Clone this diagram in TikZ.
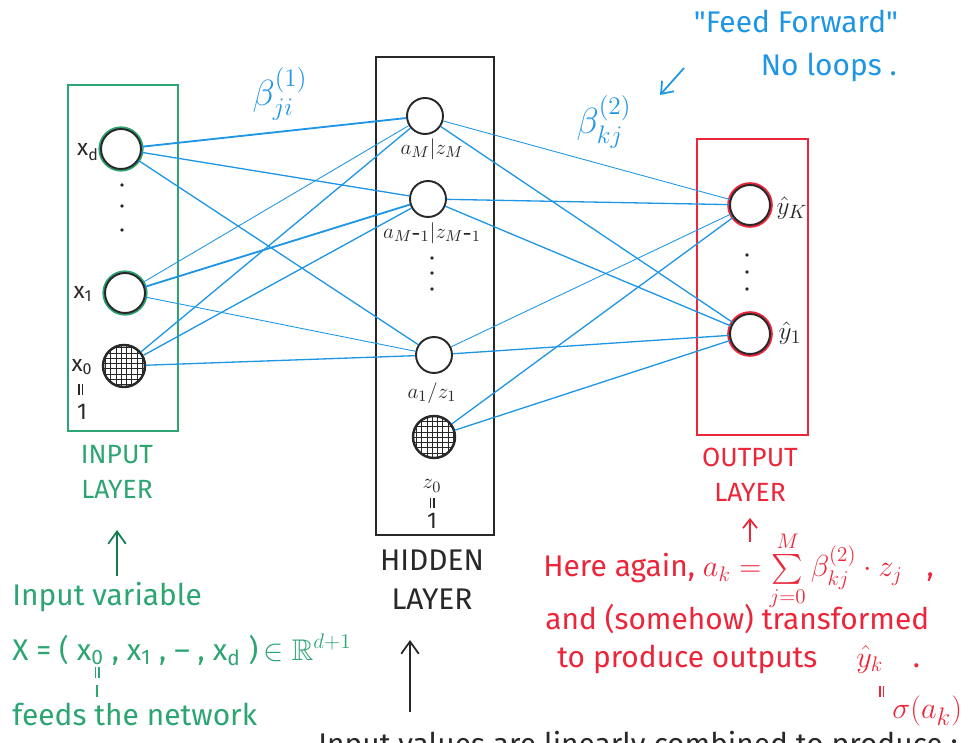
\documentclass[tikz,border=0pt]{standalone}
\usepackage{fontspec}
\usepackage{amssymb}
\setmainfont{Fira Sans}
\usetikzlibrary{arrows.meta,patterns}

\definecolor{netgreen}{RGB}{45,165,115}
\definecolor{arrowgreen}{RGB}{20,125,80}
\definecolor{netblue}{RGB}{30,150,228}
\definecolor{netred}{RGB}{236,38,58}
\definecolor{pen}{RGB}{40,40,40}

\newcommand\hwbig{\fontsize{17}{20}\selectfont}
\newcommand\hwmid{\fontsize{15}{18}\selectfont}
\newcommand\hwlbl{\fontsize{13}{15}\selectfont}

\begin{document}
\begin{tikzpicture}[x=0.02cm,y=-0.02cm,
  unit/.style={circle,minimum size=0.8cm,inner sep=0pt,draw=pen,line width=1.1pt,fill=white},
  innode/.style={unit,preaction={draw=netgreen,line width=3pt}},
  outnode/.style={unit,preaction={draw=netred,line width=3.2pt}},
  hidnode/.style={unit,minimum size=0.72cm},
  biasnode/.style={circle,minimum size=0.84cm,inner sep=0pt,draw=pen,line width=1.4pt,
    fill=white,postaction={pattern=grid,pattern color=pen}},
  wt/.style={draw=netblue,line width=0.75pt},
  wtthick/.style={draw=netblue,line width=1.05pt},
  wtthin/.style={draw=netblue,line width=0.5pt},
  lbl/.style={inner sep=0pt,font=\hwlbl,text=pen},
  dot/.style={fill=pen},
  eqstroke/.style={line width=0.7pt},
  upar/.style={-{Straight Barb[length=7pt,width=10pt,line width=1pt]},line width=1pt}
]
\useasboundingbox (0,0) rectangle (968,743);
\clip (0,0) rectangle (968,743);

% layer frames
\draw[netgreen,line width=0.8pt] (68,85) rectangle (178,431);
\draw[pen,line width=0.8pt] (376,57) rectangle (494,535);
\draw[netred,line width=0.9pt] (697,139) rectangle (808,435);

% units
\node[innode] (xd) at (121,149) {};
\node[innode] (x1) at (125,293) {};
\node[biasnode] (x0) at (124,366) {};
\node[hidnode] (hM) at (425,116) {};
\node[hidnode] (hM1) at (428,199) {};
\node[hidnode] (h1) at (434,355) {};
\node[biasnode] (z0) at (434,437) {};
\node[outnode] (yK) at (750,205) {};
\node[outnode] (y1) at (750,334) {};

% first-layer weights
\draw[wtthick] (xd) -- (hM);
\draw[wt] (xd) -- (hM1);
\draw[wt] (xd) -- (h1);
\draw[wtthin] (x1) -- (hM);
\draw[wtthick] (x1) -- (hM1);
\draw[wtthin] (x1) -- (h1);
\draw[wt] (x0) -- (hM);
\draw[wt] (x0) -- (hM1);
\draw[wt] (x0) -- (h1);

% second-layer weights
\draw[wtthin] (hM) -- (yK);
\draw[wt] (hM) -- (y1);
\draw[wt] (hM1) -- (yK);
\draw[wt] (hM1) -- (y1);
\draw[wtthin] (h1) -- (yK);
\draw[wt] (h1) -- (y1);
\draw[wt] (z0) -- (yK);
\draw[wt] (z0) -- (y1);

% elision dots in each layer
\foreach \yy in {185,206,230} \fill[dot] (122,\yy) circle[radius=1.1pt];
\foreach \yy in {258,273,289} \fill[dot] (432,\yy) circle[radius=1.1pt];
\foreach \yy in {255,272,289} \fill[dot] (747,\yy) circle[radius=1.1pt];

% input labels
\node[lbl] (lxd) at (88,152) {x\textsubscript{d}};
\node[lbl] (lx1) at (83,294) {x\textsubscript{1}};
\node[lbl] (lx0) at (82,367) {x\textsubscript{0}};
\draw[pen,eqstroke] (79,384) -- (79,395) (82.5,384) -- (82.5,395);
\node[lbl] (onex0) at (82,412) {1};

% hidden labels
\node[lbl] (lhM) at (432,149) {$a_M | z_M$};
\node[lbl] (lhM1) at (432,233) {$a_{M\mbox{-}1} | z_{M\mbox{-}1}$};
\node[lbl] (lh1) at (432,393) {$a_1 / z_1$};
\node[lbl] (lz0) at (432,486) {$z_0$};
\draw[pen,eqstroke] (430.5,498) -- (430.5,508) (434,498) -- (434,508);
\node[lbl] (onez0) at (432,521) {1};

% output labels
\node[lbl,font=\hwmid] (lyK) at (792,208) {$\hat{y}_K$};
\node[lbl,font=\hwmid] (ly1) at (790,333) {$\hat{y}_1$};

% weight labels
\node[inner sep=0pt,text=netblue,font=\fontsize{21}{24}\selectfont] (b1) at (280,94) {$\beta_{ji}^{(1)}$};
\node[inner sep=0pt,text=netblue,font=\fontsize{21}{24}\selectfont] (b2) at (604,122) {$\beta_{kj}^{(2)}$};

% layer names
\node[inner sep=0pt,text=netgreen,font=\hwmid,align=center] (inname) at (117,472) {INPUT\\[2pt]LAYER};
\node[inner sep=0pt,text=pen,font=\hwbig,align=center] (hidname) at (432,580) {HIDDEN\\[2pt]LAYER};
\node[inner sep=0pt,text=netred,font=\hwmid,align=center] (outname) at (750,475) {OUTPUT\\[2pt]LAYER};

% feed-forward remark
\node[inner sep=0pt,text=netblue,font=\hwbig,align=center] (ffnote) at (796,46)
  {\textquotedbl Feed Forward\textquotedbl\\[4pt]\hspace*{2.2em}No loops .};
\coordinate (ffa) at (684,68);
\coordinate (ffb) at (660,95);
\draw[netblue,line width=1pt,-{Straight Barb[length=6pt,width=9pt]}] (ffa) -- (ffb);

% input variable note
\coordinate (inA) at (117,576);
\coordinate (inB) at (117,530);
\draw[arrowgreen,upar] (inA) -- (inB);
\node[anchor=base west,inner sep=0pt,text=netgreen,font=\hwbig] (invar) at (12,605) {Input variable};
\node[anchor=base west,inner sep=0pt,text=netgreen,font=\hwbig] (invec) at (12,660)
  {X = ( x\textsubscript{0} , x\textsubscript{1} , -- , x\textsubscript{d} )\,$\in\mathbb{R}^{d+1}$};
\draw[netgreen,eqstroke] (95.5,667) -- (95.5,678) (99,667) -- (99,678);
\coordinate (tickA) at (97,685);
\coordinate (tickB) at (97,697);
\draw[netgreen,line width=0.8pt] (tickA) -- (tickB);
\node[anchor=base west,inner sep=0pt,text=netgreen,font=\hwbig] (feeds) at (12,725) {feeds the network};

% hidden note
\coordinate (hA) at (410,712);
\coordinate (hB) at (410,640);
\draw[pen,upar] (hA) -- (hB);
\node[anchor=north west,inner sep=0pt,text=pen,font=\hwbig] (hidnote) at (318,731) {Input values are linearly combined to produce :};

% output note
\coordinate (oA) at (750,542);
\coordinate (oB) at (750,518);
\draw[netred,line width=1pt,-{Straight Barb[length=5pt,width=8pt]}] (oA) -- (oB);
\node[anchor=base west,inner sep=0pt,text=netred,font=\hwbig] (here) at (543,577)
  {Here again, $a_k = \sum\limits_{j=0}^{M} \beta_{kj}^{(2)}\cdot z_j$ \ \ ,};
\node[anchor=base west,inner sep=0pt,text=netred,font=\hwbig] (trans) at (545,629) {and (somehow) transformed};
\node[anchor=base west,inner sep=0pt,text=netred,font=\hwbig] (prod) at (557,667) {to produce outputs\hspace{1.3em}$\hat{y}_k$\hspace{1em}.};
\draw[netred,eqstroke] (880,686) -- (880,697) (883.5,686) -- (883.5,697);
\node[anchor=base west,inner sep=0pt,text=netred,font=\fontsize{19}{22}\selectfont] (sig) at (892,718) {$\sigma(a_k)$};
\end{tikzpicture}
\end{document}
